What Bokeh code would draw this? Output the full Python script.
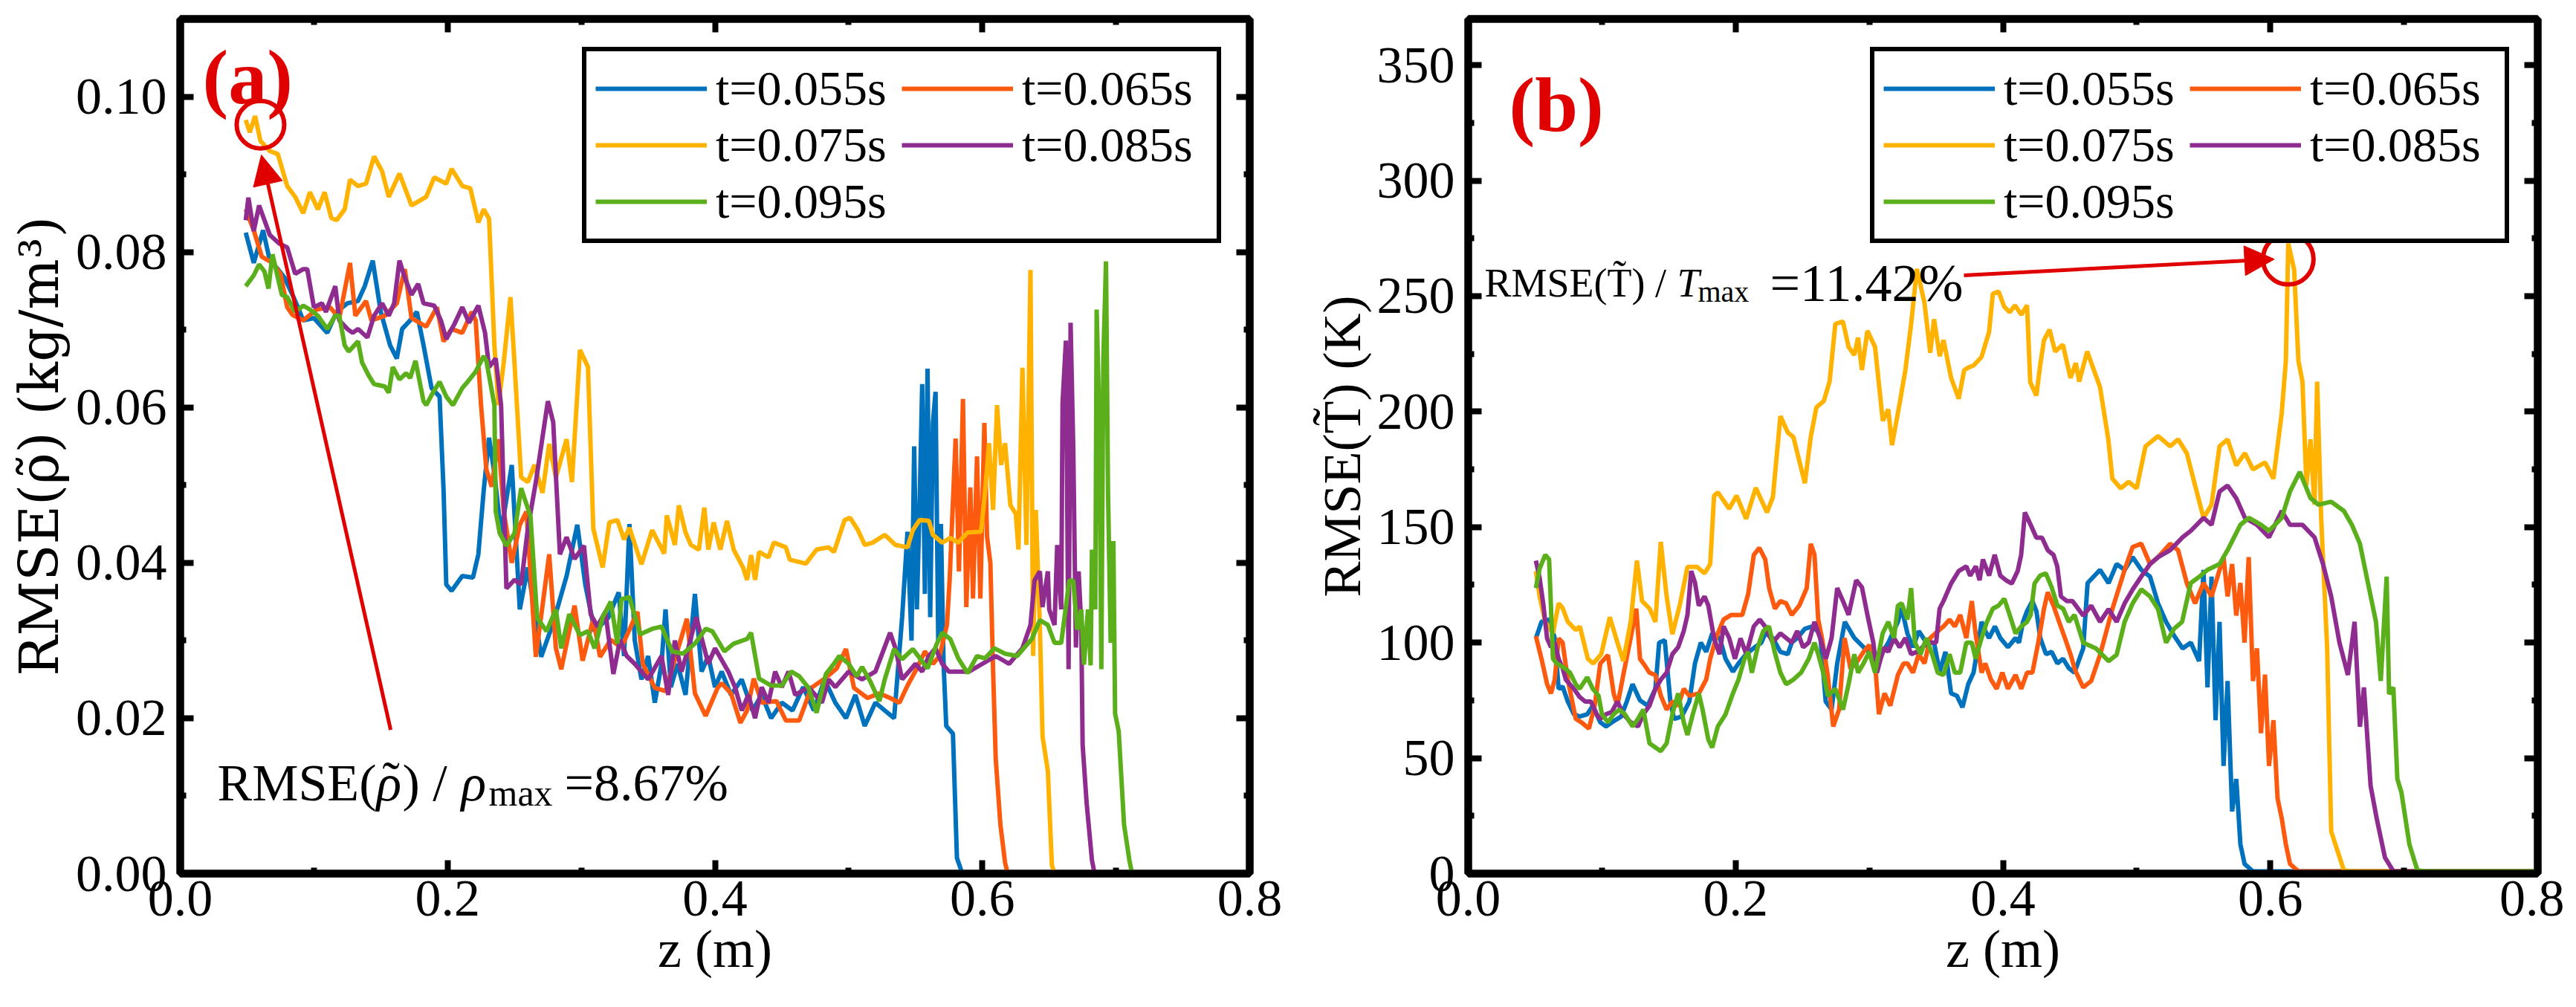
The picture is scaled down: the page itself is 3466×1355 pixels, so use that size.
from bokeh.plotting import figure
from bokeh.layouts import row
from bokeh.models import (Range1d, LinearAxis, FixedTicker, NumeralTickFormatter,
                          Legend, LegendItem, Label, Arrow, NormalHead)
from bokeh.embed import file_html
from bokeh.resources import INLINE

FONT = "Liberation Serif"
RED = "#E00000"

labels = ["t=0.055s", "t=0.065s", "t=0.075s", "t=0.085s", "t=0.095s"]
colors = ["#0072BD", "#FC5A0E", "#FFB300", "#8E2C90", "#5AAF1B"]

z_ticks = [0.0, 0.2, 0.4, 0.6, 0.8]
z_minor = [0.1, 0.3, 0.5, 0.7]
rho_ticks = [0.0, 0.02, 0.04, 0.06, 0.08, 0.10]
rho_minor = [0.01, 0.03, 0.05, 0.07, 0.09]
T_ticks = [0, 50, 100, 150, 200, 250, 300, 350]
T_minor = [25, 75, 125, 175, 225, 275, 325]

# (z [m], RMSE of density [kg/m3])
rho_055 = [(.049,.0825),(.055,.0786),(.062,.0828),(.067,.0789),(.073,.0778),(.078,.0767),(.084,.0745),
           (.088,.0729),(.092,.0712),(.100,.0715),(.110,.0696),(.117,.0723),(.125,.0734),(.133,.0737),
           (.138,.0756),(.144,.0789),(.150,.0723),(.157,.0680),(.162,.0663),(.166,.0701),(.172,.0712),
           (.177,.0723),(.182,.0680),(.188,.0625),(.194,.0614),(.197,.0493),(.199,.0372),(.203,.0364),
           (.211,.0383),(.219,.0381),(.223,.0411),(.227,.0493),(.231,.0561),(.235,.0515),(.240,.0438),
           (.248,.0526),(.254,.0340),(.260,.0394),(.270,.0279),(.279,.0323),(.289,.0383),(.297,.0449),
           (.303,.0372),(.310,.0312),(.320,.0329),(.328,.0362),(.332,.028),(.336,.045),(.340,.030),
           (.345,.025),(.350,.028),(.355,.022),(.360,.027),(.363,.034),(.367,.024),(.372,.027),(.378,.023),
           (.385,.036),(.390,.026),(.395,.028),(.400,.024),(.405,.026),(.412,.023),(.420,.025),(.428,.021),
           (.435,.023),(.442,.020),(.450,.022),(.458,.021),(.466,.024),(.474,.021),(.482,.025),(.490,.022),
           (.498,.020),(.505,.023),(.512,.019),(.520,.022),(.527,.021),(.534,.020),(.540,.033),(.544,.044),
           (.547,.030),(.549,.055),(.551,.034),(.553,.047),(.555,.063),(.557,.036),(.559,.065),(.561,.033),
           (.563,.058),(.565,.062),(.567,.030),(.569,.045),(.571,.027),(.573,.019),(.578,.018),(.581,.002),
           (.585,0)]
rho_065 = [(.049,.0855),(.055,.0828),(.061,.0794),(.069,.0786),(.075,.0772),(.080,.0729),(.084,.0719),
           (.092,.0712),(.102,.0726),(.112,.0729),(.119,.0715),(.127,.0786),(.131,.0718),(.139,.0737),
           (.143,.0712),(.153,.0718),(.162,.0734),(.168,.0778),(.173,.0715),(.184,.0704),(.192,.0729),
           (.197,.0685),(.203,.0701),(.211,.0696),(.218,.0723),(.221,.0712),(.225,.0603),(.229,.0520),
           (.233,.0498),(.238,.0559),(.242,.0466),(.248,.0400),(.254,.0449),(.259,.0466),(.266,.0279),
           (.276,.0411),(.281,.0290),(.285,.0263),(.295,.0345),(.301,.0274),(.309,.0328),(.314,.0279),
           (.322,.0301),(.330,.0291),(.342,.0337),(.346,.0270),(.355,.0239),(.363,.0235),(.379,.0328),
           (.385,.0232),(.393,.0203),(.402,.0239),(.405,.0245),(.412,.0232),(.419,.0194),(.424,.0210),
           (.429,.0251),(.435,.0220),(.446,.0222),(.453,.0197),(.463,.0197),(.472,.0239),(.482,.0251),
           (.491,.0264),(.498,.0289),(.504,.0239),(.514,.0226),(.523,.0232),(.531,.0226),(.538,.0220),
           (.544,.0242),(.551,.0264),(.557,.0286),(.563,.0270),(.568,.0280),(.5735,.0320),(.5755,.0377),
           (.580,.0560),(.5825,.0389),(.5855,.0611),(.588,.0343),(.591,.0497),(.593,.0354),(.596,.0537),
           (.5985,.0354),(.6015,.0580),(.6035,.0434),(.606,.0400),(.608,.0263),(.610,.0148),(.6135,.0063),
           (.617,.0014),(.619,0)]
rho_075 = [(.049,.097),(.052,.0954),(.056,.0975),(.060,.0943),(.067,.093),(.073,.0926),(.080,.0885),
           (.086,.0871),(.092,.085),(.097,.0877),(.103,.0855),(.108,.0877),(.113,.0844),(.117,.0841),
           (.123,.0855),(.127,.0893),(.133,.0885),(.139,.0888),(.145,.0923),(.151,.0904),(.156,.0871),
           (.164,.0901),(.173,.086),(.184,.0871),(.190,.0896),(.199,.0888),(.203,.0907),(.211,.0885),
           (.217,.0882),(.223,.0838),(.227,.0855),(.231,.0843),(.235,.068),(.238,.0603),(.242,.0658),
           (.247,.0742),(.250,.0658),(.255,.051),(.260,.0504),(.265,.0526),(.271,.049),(.276,.0553),
           (.281,.051),(.289,.0559),(.293,.0504),(.299,.0674),(.305,.0652),(.309,.0444),(.316,.0394),
           (.321,.0452),(.327,.0455),(.332,.043),(.336,.0445),(.345,.0398),(.353,.0442),(.362,.0412),
           (.364,.0461),(.370,.0423),(.373,.0474),(.378,.0439),(.382,.0423),(.388,.0417),(.392,.0471),
           (.395,.0417),(.399,.0452),(.404,.0417),(.409,.0454),(.414,.0417),(.421,.0394),(.424,.0378),
           (.427,.041),(.430,.0378),(.433,.0414),(.440,.0407),(.444,.0426),(.453,.042),(.456,.0404),
           (.468,.0399),(.476,.0417),(.485,.042),(.489,.0414),(.497,.0455),(.501,.0458),(.507,.0442),
           (.512,.0423),(.518,.0426),(.527,.0436),(.535,.0423),(.544,.042),(.548,.0442),(.553,.0455),
           (.560,.0454),(.563,.0436),(.570,.0426),(.576,.0432),(.582,.0426),(.589,.0439),(.599,.044),
           (.602,.0491),(.605,.0554),(.608,.0468),(.611,.0603),(.614,.0526),(.617,.0554),(.621,.0474),
           (.625,.0463),(.627,.0417),(.630,.0651),(.633,.0423),(.636,.0777),(.638,.028),(.640,.0468),
           (.643,.032),(.645,.0177),(.649,.0132),(.652,.0011),(.654,0)]
rho_085 = [(.049,.0841),(.051,.087),(.055,.0827),(.059,.086),(.063,.0841),(.067,.0822),(.074,.0811),
           (.080,.0806),(.086,.0772),(.092,.0778),(.095,.0778),(.100,.0729),(.106,.0734),(.109,.0723),
           (.116,.0756),(.119,.0712),(.125,.0701),(.129,.0696),(.133,.0701),(.140,.069),(.145,.0718),
           (.151,.0734),(.156,.0718),(.160,.0734),(.164,.0789),(.168,.0767),(.173,.0745),(.178,.0759),
           (.182,.0734),(.190,.0731),(.195,.0712),(.199,.0688),(.205,.0707),(.211,.0729),(.216,.0709),
           (.223,.0731),(.228,.0696),(.231,.0652),(.236,.0663),(.240,.0603),(.244,.0367),(.250,.0378),
           (.255,.0372),(.260,.0444),(.266,.0504),(.275,.0608),(.279,.0581),(.284,.0411),(.289,.0433),
           (.295,.0405),(.302,.0422),(.307,.0334),(.312,.0318),(.318,.0337),(.324,.0257),(.329,.0301),
           (.334,.028),(.340,.027),(.350,.025),(.360,.028),(.365,.023),(.370,.030),(.375,.026),(.380,.029),
           (.386,.033),(.395,.027),(.400,.029),(.410,.026),(.415,.024),(.420,.021),(.425,.023),(.430,.020),
           (.435,.024),(.440,.022),(.445,.026),(.450,.024),(.455,.026),(.460,.023),(.470,.024),(.480,.022),
           (.485,.025),(.490,.024),(.500,.026),(.510,.025),(.520,.026),(.531,.031),(.535,.029),(.540,.025),
           (.545,.026),(.550,.027),(.555,.026),(.560,.028),(.565,.029),(.570,.027),(.575,.026),(.580,.026),
           (.590,.026),(.600,.027),(.610,.028),(.620,.027),(.630,.029),(.636,.032),(.639,.0377),(.643,.0389),
           (.645,.0343),(.649,.0389),(.650,.034),(.654,.032),(.656,.0423),(.659,.034),(.660,.0606),
           (.6625,.0686),(.6645,.0263),(.666,.0709),(.668,.0548),(.670,.0291),(.672,.0389),(.674,.032),
           (.675,.0166),(.678,.0091),(.682,.0017),(.684,0)]
rho_095 = [(.049,.0756),(.055,.077),(.059,.0784),(.063,.0775),(.066,.0753),(.069,.0797),(.073,.0767),
           (.076,.0745),(.080,.0742),(.086,.0723),(.092,.0731),(.097,.0726),(.103,.0718),(.110,.0701),
           (.116,.0718),(.119,.0718),(.123,.068),(.126,.0672),(.133,.0685),(.136,.0658),(.141,.0641),
           (.145,.063),(.153,.0627),(.156,.0619),(.159,.0652),(.164,.0636),(.169,.0644),(.172,.0638),
           (.176,.066),(.182,.0608),(.184,.0603),(.189,.0619),(.194,.0633),(.199,.0614),(.204,.0603),
           (.211,.0625),(.215,.0633),(.221,.0646),(.227,.0666),(.229,.066),(.235,.0603),(.236,.0466),
           (.239,.0438),(.244,.0422),(.250,.0438),(.255,.0496),(.262,.046),(.267,.0329),(.274,.0312),
           (.281,.034),(.285,.029),(.291,.0334),(.299,.0307),(.305,.0312),(.310,.029),(.316,.033),
           (.322,.035),(.327,.0296),(.330,.0353),(.336,.0356),(.344,.0308),(.353,.0315),(.360,.0318),
           (.368,.0286),(.376,.0283),(.385,.0296),(.393,.0315),(.398,.0312),(.407,.0286),(.414,.0296),
           (.424,.0302),(.427,.031),(.433,.0251),(.442,.0242),(.450,.0242),(.457,.026),(.463,.0254),
           (.470,.0239),(.476,.0207),(.483,.0257),(.489,.027),(.493,.028),(.500,.027),(.506,.0254),
           (.510,.0266),(.516,.0248),(.523,.0222),(.527,.025),(.534,.0289),(.540,.0276),(.548,.0289),
           (.559,.0264),(.566,.0296),(.570,.031),(.576,.0302),(.582,.0277),(.589,.0258),(.596,.028),
           (.602,.0277),(.609,.029),(.617,.0283),(.626,.028),(.631,.029),(.637,.0302),(.643,.0326),
           (.649,.032),(.654,.0297),(.659,.0297),(.665,.0377),(.668,.0377),(.671,.0314),(.674,.034),
           (.676,.0269),(.679,.034),(.681,.0268),(.682,.0417),(.6845,.034),(.6855,.0726),(.6876,.0577),
           (.689,.0263),(.6905,.0663),(.6925,.0788),(.694,.0491),(.696,.0297),(.698,.0428),(.6993,.0206),
           (.702,.0183),(.706,.0063),(.710,.0017),(.712,0)]

# (z [m], RMSE of temperature [K])
T_055 = [(.0506,101.8),(.0548,109),(.0605,110),(.0647,102),(.0676,80),(.0706,81),(.0745,74.5),(.079,69),
         (.0833,68),(.089,69),(.0932,72.7),(.0988,65.5),(.1031,63.7),(.1088,66),(.1144,68),(.1186,74.5),
         (.1229,82),(.1285,75),(.1342,72.7),(.14,80),(.1428,100),(.147,101),(.1512,74.5),(.154,67),
         (.1597,68),(.1654,74.5),(.1696,91),(.174,100),(.178,96),(.1825,104),(.1882,101.8),(.1925,93),
         (.198,87.4),(.2022,91),(.2079,95),(.2151,98.3),(.2193,100),(.2221,104),(.2278,102),(.2335,96),
         (.239,95),(.242,100),(.2461,102),(.2518,106),(.2575,107),(.2632,104),(.2674,74.5),(.2718,71),
         (.276,91),(.2817,109),(.2888,102),(.2957,98),(.3015,95),(.3057,91),(.31,96),(.3143,100),
         (.3214,109),(.3242,115),(.3285,104),(.3327,98),(.337,105),(.3427,100),(.3484,100),(.3526,87.4),
         (.357,96),(.3612,78),(.3655,77),(.3697,72),(.374,82),(.378,87),(.3811,98),(.384,109),(.3868,105),
         (.3896,102),(.394,107),(.398,102),(.4037,98),(.4094,102),(.412,100),(.415,109),(.418,113.6),
         (.422,118),(.425,113.6),(.4279,102),(.4322,95),(.4364,96),(.4407,91),(.445,93),(.4492,89),
         (.4535,87),(.46,97.5),(.4633,125.8),(.4726,131.5),(.479,125.8),(.485,134),(.491,131.5),(.497,137),
         (.5035,131.5),(.51,128.6),(.516,117),(.522,109),(.528,103),(.5344,97.5),(.5405,100),(.5467,92),
         (.55,131.5),(.553,80.6),(.556,128.6),(.559,66.4),(.562,109),(.565,46.6),(.568,83.4),(.5714,26.9),
         (.5745,41),(.5776,12.7),(.5807,4.2),(.587,1),(.8,1)]
T_065 = [(.0506,102.8),(.0548,93),(.059,82),(.0619,78),(.0647,84),(.0676,101.8),(.0706,100),(.0745,84),
         (.0804,67),(.0846,65.5),(.0903,62.8),(.0946,72.7),(.0988,91),(.1045,94.6),(.1088,78),(.1116,72.7),
         (.116,86),(.1215,102),(.1257,114.7),(.1285,93),(.131,91),(.1356,87),(.14,86),(.1441,77),(.1484,71),
         (.1527,74.5),(.157,72.7),(.1612,80),(.1654,77),(.1725,78),(.178,84),(.181,93),(.1853,102),(.191,110),
         (.1967,112),(.205,112),(.2094,121),(.2136,138),(.2178,141),(.2222,136),(.2251,123.6),(.2294,114.7),
         (.2335,118),(.2378,117),(.242,112),(.2476,116),(.2532,123.6),(.2562,142.8),(.259,138),(.2618,110),
         (.2646,102),(.2689,86),(.273,63.7),(.2774,71),(.2815,102),(.286,88.6),(.29,91),(.2957,96),(.3,99),
         (.3043,91),(.3072,69),(.3114,78),(.3157,72.7),(.3214,86),(.3257,91),(.3285,91),(.3327,87),(.337,95),
         (.3413,91),(.3456,102),(.3513,105),(.3555,107),(.36,110),(.364,107),(.368,112),(.3726,102),
         (.3767,118),(.3795,104),(.384,87),(.3868,91),(.391,84),(.3953,80),(.3995,87),(.4037,80),(.4094,86),
         (.4137,80),(.418,87),(.422,87),(.4264,100),(.4307,114.7),(.4335,121.8),(.4378,116),(.442,109),
         (.4463,102),(.4505,95),(.454,88),(.46,80.6),(.466,83.4),(.4726,94.7),(.4818,114.5),(.491,131.5),
         (.497,141.4),(.5035,142.8),(.51,134),(.516,137),(.525,142.8),(.531,140),(.5375,125.8),(.5437,117),
         (.55,125.8),(.556,120),(.562,131.5),(.565,137),(.568,120),(.5714,134),(.5745,111.7),(.5776,125.8),
         (.5807,100),(.5838,137),(.587,83.4),(.59,97.5),(.593,60.8),(.596,86.2),(.599,46.6),(.6023,66.4),
         (.6054,32.5),(.6085,24),(.6116,12.7),(.6147,4.2),(.621,1),(.8,1)]
T_075 = [(.0506,130.9),(.0534,120),(.0576,109),(.0634,104),(.0676,117),(.0706,115),(.0745,109),(.0804,105.5),
         (.0835,107),(.0895,93),(.0935,91),(.0995,95),(.1059,111),(.1116,100),(.116,92),(.1215,109),
         (.1262,135.5),(.13,118),(.1357,114.7),(.14,109),(.144,143.6),(.1484,120),(.1527,103.7),(.1583,116.4),
         (.164,132.8),(.1711,132.8),(.1768,130),(.181,134),(.1839,163.6),(.1868,165),(.1952,158),(.2007,163.6),
         (.2079,153.6),(.2151,167),(.2235,156.4),(.2279,163),(.2335,198),(.239,191),(.2432,189),(.2518,169),
         (.2562,189),(.2604,201.8),(.266,204.6),(.2703,213),(.2746,238),(.2803,239),(.2845,228),(.2888,224.5),
         (.2916,232),(.2945,218),(.2986,235),(.3043,228),(.3101,196),(.3142,201),(.317,185.5),(.3227,203.6),
         (.327,218),(.3313,238),(.3356,261.8),(.3413,247),(.3456,225.5),(.3484,240),(.3527,224),(.3555,231),
         (.3612,214.6),(.3669,205.6),(.371,218),(.3738,219),(.378,220),(.3839,223.6),(.3896,234.5),(.3924,251),
         (.3967,252),(.4009,245.5),(.405,243),(.409,246),(.4137,242),(.418,246),(.4204,212.7),(.425,207),
         (.4278,220),(.4307,231),(.4348,235.5),(.439,226),(.4448,229),(.4505,214.6),(.4545,221),(.457,213),
         (.463,226),(.4726,210.6),(.4788,188),(.4818,171),(.488,166.8),(.494,169.6),(.50,166.8),(.5066,185),
         (.516,189.4),(.525,185),(.531,188),(.5375,182),(.5437,168),(.55,154),(.556,159.7),(.562,185),
         (.568,188),(.5745,176.7),(.581,182),(.587,175),(.596,178),(.6023,171),(.6085,199.3),(.6116,222),
         (.6134,272.8),(.6178,261.5),(.621,222),(.624,213),(.627,168),(.630,188),(.633,159.7),(.635,213),
         (.638,154),(.6425,97.5),(.6455,18.4),(.6486,12.7),(.655,1.4),(.661,1),(.8,1)]
T_085 = [(.0506,135.5),(.0534,128),(.0562,116.4),(.059,101.8),(.0619,98),(.0647,100),(.0676,93),(.0706,89),
         (.073,84),(.079,80),(.0833,76.5),(.0875,74.5),(.0918,74.5),(.096,69),(.0988,67),(.1031,69),(.1074,70),
         (.1116,74.5),(.116,69),(.1215,65.5),(.127,63.7),(.131,69),(.1356,72.7),(.14,80),(.1441,84),(.1484,87),
         (.1527,95),(.157,98),(.1612,105),(.164,112),(.1668,131),(.1696,126),(.1725,116),(.1768,120),
         (.1796,116),(.1839,101.8),(.188,95),(.191,107),(.1952,102),(.1995,93),(.2037,101.8),(.208,95),
         (.2136,107),(.218,110),(.222,107),(.2278,100),(.2335,104),(.2378,102),(.242,100),(.2461,105),
         (.2505,98),(.2547,100),(.259,109),(.2632,102),(.2675,93),(.2718,102),(.276,123.6),(.2803,118),
         (.2845,112),(.2902,127),(.2945,124),(.2986,112),(.303,100),(.3057,87),(.3085,93),(.3114,98),
         (.3142,96),(.3185,102),(.3227,98),(.327,102),(.3313,95),(.3356,96),(.3398,98),(.344,100),(.35,100),
         (.3526,114.7),(.3555,118),(.3612,125.6),(.3669,131),(.3726,133),(.3754,129),(.3797,133),(.3825,127),
         (.385,136),(.3896,129),(.3938,138),(.398,129),(.4023,127),(.4066,125.6),(.411,131),(.4136,138),
         (.4164,156.4),(.4207,151),(.425,145.4),(.4292,145.4),(.4335,140),(.4378,138),(.4406,133),(.4434,120),
         (.4477,118),(.452,118),(.46,111.7),(.466,116),(.4726,109),(.479,114.5),(.485,109),(.491,117),
         (.497,123),(.5035,128.6),(.51,134),(.516,137),(.525,140),(.5344,145.6),(.5405,148.4),(.55,154),
         (.556,151),(.562,165.4),(.568,168),(.5745,162.5),(.581,154),(.59,151),(.599,145.6),(.6085,157),
         (.6147,151),(.624,151),(.633,145.6),(.6394,134),(.6455,120),(.6517,100),(.658,86),(.663,109),
         (.667,63.6),(.67,80.6),(.675,38),(.6795,24),(.6857,7),(.692,1),(.8,1)]
T_095 = [(.0506,123.6),(.0534,132),(.0576,138),(.0605,136),(.0634,93),(.0662,91),(.072,89),(.0761,87),
         (.0804,82),(.0833,80),(.089,85),(.0932,80),(.0975,77),(.1,69),(.1045,65.5),(.1088,69),(.113,71),
         (.1172,69),(.1229,63.7),(.127,67),(.131,71),(.1356,56.4),(.14,54.6),(.144,53),(.1484,56.4),
         (.1527,69),(.157,78),(.1612,65.5),(.164,60),(.168,69),(.1725,78),(.1753,71),(.1796,58),(.1825,54.6),
         (.1867,63.7),(.1925,69),(.198,78),(.2022,84),(.2066,93),(.2094,96),(.2122,87),(.2165,98),(.2207,105),
         (.225,107),(.2292,96),(.2335,87),(.2378,82),(.2432,84),(.249,87),(.2547,93),(.259,100),(.2618,95),
         (.266,86),(.2689,77),(.2746,80),(.2803,71),(.2845,82),(.2888,95),(.2916,87),(.2957,91),(.3,96),
         (.3043,87),(.31,104),(.3142,109),(.3185,102),(.3214,116),(.3242,117),(.3285,110),(.3313,123.6),
         (.3341,100),(.3384,95),(.3427,102),(.347,95),(.3512,87),(.3555,86),(.36,95),(.364,87),(.368,87),
         (.3726,100),(.3767,100),(.3795,93),(.384,102),(.388,109),(.3924,114.7),(.3967,116),(.401,119),
         (.405,112),(.4094,104),(.4137,107),(.418,109),(.4207,112),(.4236,125.6),(.4278,129),(.432,130),
         (.4364,124),(.4407,116),(.445,114.7),(.4492,109),(.4535,112),(.46,100),(.4695,97.5),(.479,92),
         (.485,94.7),(.491,109),(.497,117),(.5035,123),(.51,120),(.516,114.5),(.522,100),(.528,106),(.534,109),
         (.5405,125.8),(.547,128.6),(.553,131.5),(.562,134),(.568,140),(.5776,151),(.584,154),(.593,151),
         (.599,148.4),(.6085,154),(.6147,165.4),(.622,173.9),(.630,162.6),(.636,159.7),(.6455,161),(.655,157),
         (.661,151),(.667,142.8),(.673,125.8),(.679,109),(.6826,83.4),(.687,128.6),(.6888,77.7),(.692,80.6),
         (.695,41),(.698,35.3),(.704,12.7),(.710,1.4),(.7166,1),(.8,1)]


def make_panel(series, y_top, y_ticks, y_minor, y_fmt, y_label, y_label_font, b_left, b_right):
    p = figure(width=1725, height=1339, x_range=Range1d(0, 0.8), y_range=Range1d(0, y_top),
               output_backend="svg", toolbar_location=None,
               min_border_left=b_left, min_border_right=b_right,
               min_border_top=25, min_border_bottom=164)
    p.background_fill_color = "white"
    p.border_fill_color = "white"
    p.xgrid.grid_line_color = None
    p.ygrid.grid_line_color = None
    p.outline_line_color = "black"
    p.outline_line_width = 10

    p.add_layout(LinearAxis(), "above")
    p.add_layout(LinearAxis(), "right")
    p.xaxis.ticker = FixedTicker(ticks=z_ticks, minor_ticks=z_minor)
    p.yaxis.ticker = FixedTicker(ticks=y_ticks, minor_ticks=y_minor)
    p.xaxis.formatter = NumeralTickFormatter(format="0.0")
    p.yaxis.formatter = NumeralTickFormatter(format=y_fmt)
    for ax in list(p.xaxis) + list(p.yaxis):
        ax.axis_line_width = 10
        ax.axis_line_color = "black"
        ax.major_tick_in = 18
        ax.major_tick_out = 0
        ax.major_tick_line_width = 8
        ax.minor_tick_in = 8
        ax.minor_tick_out = 0
        ax.minor_tick_line_width = 8
        ax.major_label_text_font = FONT
        ax.major_label_text_font_size = "70px"
        ax.major_label_text_color = "black"
    for ax in (p.above[0], p.right[0]):
        ax.major_label_text_font_size = "1px"
        ax.major_label_text_color = None
    p.below[0].major_label_standoff = 10
    p.left[0].major_label_standoff = 18
    p.below[0].axis_label = "z (m)"
    p.left[0].axis_label = y_label
    for ax, fnt in ((p.below[0], FONT), (p.left[0], y_label_font)):
        ax.axis_label_text_font = fnt
        ax.axis_label_text_font_size = "72px"
        ax.axis_label_text_font_style = "normal"
        ax.axis_label_text_color = "black"
    p.below[0].axis_label_standoff = 2
    p.left[0].axis_label_standoff = 4

    items = []
    for data, lab, col in zip(series, labels, colors):
        z = [d[0] for d in data]
        v = [d[1] for d in data]
        r = p.line(z, v, line_color=col, line_width=6)
        items.append(LegendItem(label=lab, renderers=[r]))
    order = [0, 2, 4, 1, 3]
    legend = Legend(items=[items[i] for i in order], nrows=3, location="top_right", margin=38,
                    label_text_font=FONT, label_text_font_size="66px", label_text_color="black",
                    glyph_width=150, glyph_height=40, label_standoff=12, label_width=250,
                    spacing=0, padding=12, border_line_color="black", border_line_width=6,
                    border_line_alpha=1, background_fill_alpha=1)
    p.add_layout(legend)
    return p


def text(p, x, y, txt, dx=0, dy=0, size="70px", style="normal", color="black"):
    p.add_layout(Label(x=x, y=y, x_offset=dx, y_offset=dy, text=txt, text_font=FONT,
                       text_font_size=size, text_font_style=style, text_color=color,
                       text_baseline="alphabetic"))


p1 = make_panel([rho_055, rho_065, rho_075, rho_085, rho_095], 0.11, rho_ticks, rho_minor,
                "0.00", "RMSE(\u03c1\u0303) (kg/m\u00b3)", "DejaVu Serif", 242, 44)
p2 = make_panel([T_055, T_065, T_075, T_085, T_095], 370, T_ticks, T_minor,
                "0", "RMSE(T\u0303) (K)", FONT, 250, 36)

# panel (a) annotations
p1.scatter([0.060], [0.0964], marker="circle", size=64, fill_color=None, line_color=RED, line_width=6)
p1.add_layout(Arrow(end=NormalHead(size=40, fill_color=RED, line_color=RED), x_start=0.1574,
                    y_start=0.0185, x_end=0.0607, y_end=0.0925, line_color=RED, line_width=5))
text(p1, 0.0167, 0.1025, "(a)", size="104px", style="bold", color=RED)
ax_, ay_ = 0.0278, 0.0117
text(p1, ax_, ay_, "RMSE(")
text(p1, ax_, ay_, "\u03c1", dx=214, style="italic")
text(p1, ax_, ay_, "\u02dc", dx=222, dy=4)
text(p1, ax_, ay_, ") / ", dx=249)
text(p1, ax_, ay_, "\u03c1", dx=328, style="italic")
text(p1, ax_, ay_, "max", dx=365, dy=-14, size="50px")
text(p1, ax_, ay_, "=8.67%", dx=467)

# panel (b) annotations
p2.scatter([0.6134], [266], marker="circle", size=68, fill_color=None, line_color=RED, line_width=6)
p2.add_layout(Arrow(end=NormalHead(size=40, fill_color=RED, line_color=RED), x_start=0.3708,
                    y_start=259, x_end=0.603, y_end=266, line_color=RED, line_width=5))
text(p2, 0.0306, 333, "(b)", size="104px", style="bold", color=RED)
bx_, by_ = 0.0122, 255.7
text(p2, bx_, by_, "RMSE(T\u0303) / ", size="54px")
text(p2, bx_, by_, "T", dx=259, size="54px", style="italic")
text(p2, bx_, by_, "max", dx=287, dy=-12, size="40px")
text(p2, bx_, by_, "=11.42%", dx=384, size="72px")

layout = row(p1, p2)
open("out.html", "w").write(file_html(layout, INLINE))
